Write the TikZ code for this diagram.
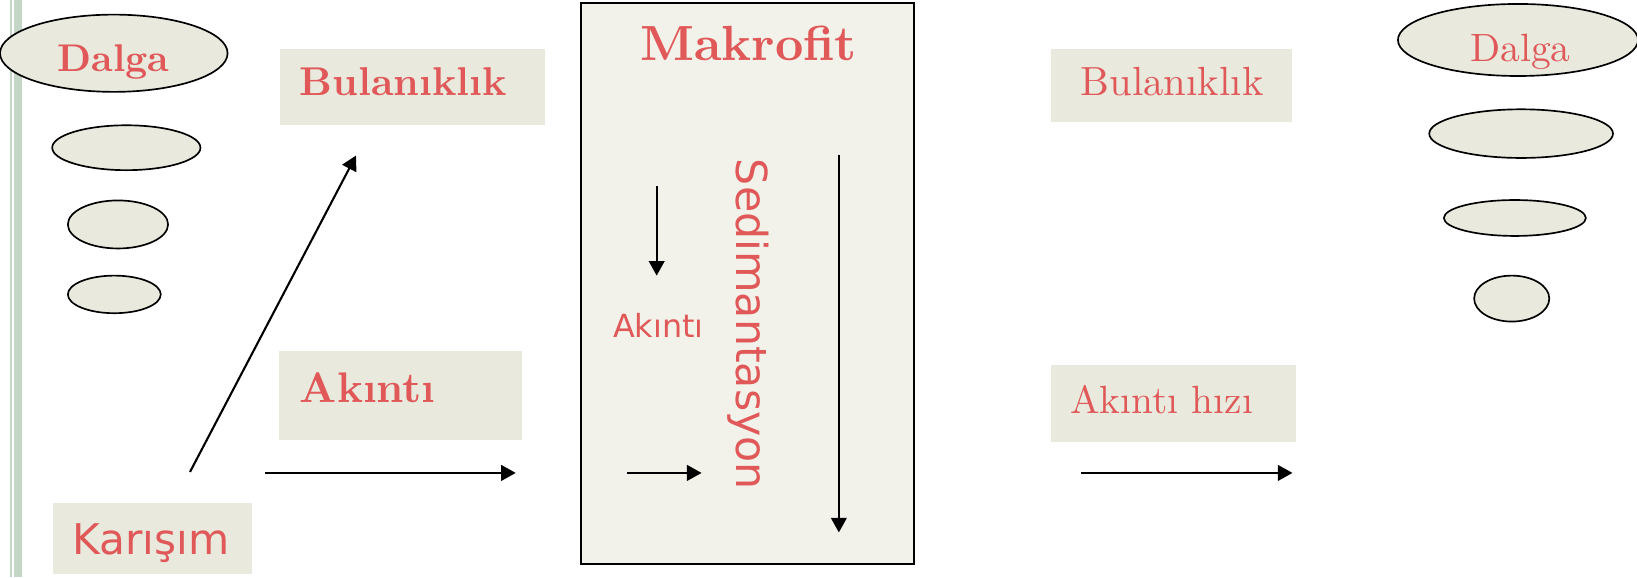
\documentclass[tikz,border=0pt]{standalone}
\usepackage{fontspec}
\setmainfont{lmroman10-regular}[Extension=.otf, BoldFont=lmroman10-bold]
\newfontfamily\dejavu{DejaVu Sans}
\usetikzlibrary{arrows.meta,shapes.geometric}
\definecolor{txtred}{RGB}{224,88,88}
\definecolor{boxfill}{RGB}{233,233,222}
\definecolor{makfill}{RGB}{243,242,234}
\definecolor{stripecol}{RGB}{196,214,198}
\tikzset{
  oval/.style={ellipse, draw=black, line width=1.6pt, fill=boxfill, inner sep=0pt},
  tbox/.style={rectangle, fill=boxfill, inner sep=0pt, draw=none},
  lbl/.style={inner sep=0pt, anchor=base west, text=txtred},
  arr/.style={line width=2pt, -{Triangle[length=14pt,width=15pt]}},
}
\begin{document}
\begin{tikzpicture}[x=1pt,y=-1pt]
\useasboundingbox (0,0) rectangle (1568,553);
% left stripe
\fill[stripecol] (9.6,0) rectangle (11.6,553);
\fill[stripecol] (13.6,0) rectangle (20.8,553);

% left ellipses
\node[oval, minimum width=218pt, minimum height=74pt] (eL1) at (109,51) {};
\node[oval, minimum width=142pt, minimum height=43pt] (eL2) at (121,141.5) {};
\node[oval, minimum width=96pt, minimum height=46pt] (eL3) at (113,215) {};
\node[oval, minimum width=89pt, minimum height=36pt] (eL4) at (109.5,282) {};
\node[lbl, font=\fontsize{37}{40}\selectfont\bfseries] (dalgaL) at (55,68.6) {Dalga};

% left boxes
\node[tbox, minimum width=254pt, minimum height=73pt] (bulLbox) at (395,83.5) {};
\node[lbl, font=\fontsize{38.5}{40}\selectfont\bfseries] (bulL) at (287,91.7) {Bulanıklık};
\node[tbox, minimum width=233pt, minimum height=85pt] (akLbox) at (383.5,378.5) {};
\node[lbl, font=\fontsize{41}{44}\selectfont\bfseries] (akL) at (287,385.7) {Akıntı};
\node[tbox, minimum width=190pt, minimum height=68pt] (karbox) at (146,516) {};
\node[lbl, font=\dejavu\fontsize{40.5}{42}\selectfont] (kar) at (69,531.6) {Karışım};

% left arrows
\coordinate (dA) at (182,452);
\coordinate (dB) at (341,149);
\draw[arr] (dA) -- (dB);
\coordinate (hA) at (254,453);
\coordinate (hB) at (494,453);
\draw[arr] (hA) -- (hB);

% Makrofit box
\node[rectangle, draw=black, line width=2pt, fill=makfill, minimum width=319pt, minimum height=537pt, inner sep=0pt] (mak) at (716.25,271.6) {};
\node[inner sep=0pt, anchor=base, text=txtred, font=\fontsize{47.3}{50}\selectfont\bfseries] (makT) at (717,58) {Makrofit};
\coordinate (sdA) at (629,178);
\coordinate (sdB) at (629,264);
\draw[arr] (sdA) -- (sdB);
\node[lbl, font=\dejavu\fontsize{30.5}{32}\selectfont] (akS) at (587,323) {Akıntı};
\coordinate (srA) at (601,453);
\coordinate (srB) at (672,453);
\draw[arr] (srA) -- (srB);
\node[lbl, rotate=-90, font=\dejavu\fontsize{40.9}{43}\selectfont] (sed) at (705.6,152) {Sedimantasyon};
\coordinate (ldA) at (803.5,148);
\coordinate (ldB) at (803.5,510);
\draw[arr] (ldA) -- (ldB);

% right boxes
\node[tbox, minimum width=231pt, minimum height=69.5pt] (bulRbox) at (1122.5,81.75) {};
\node[lbl, font=\fontsize{39}{42}\selectfont] (bulR) at (1035,91.6) {Bulanıklık};
\node[tbox, minimum width=234pt, minimum height=73pt] (akRbox) at (1124,386.5) {};
\node[lbl, font=\fontsize{37.7}{40}\selectfont] (akR) at (1025,396) {Akıntı hızı};
\coordinate (rA) at (1035.6,453);
\coordinate (rB) at (1238,453);
\draw[arr] (rA) -- (rB);

% right ellipses
\node[oval, minimum width=230pt, minimum height=69pt] (eR1) at (1454,38.3) {};
\node[oval, minimum width=176pt, minimum height=46.6pt] (eR2) at (1457,128) {};
\node[oval, minimum width=136pt, minimum height=34.4pt] (eR3) at (1451,208.8) {};
\node[oval, minimum width=72pt, minimum height=44pt] (eR4) at (1448,286) {};
\node[lbl, font=\fontsize{37.8}{40}\selectfont] (dalgaR) at (1408,59) {Dalga};
\end{tikzpicture}
\end{document}
